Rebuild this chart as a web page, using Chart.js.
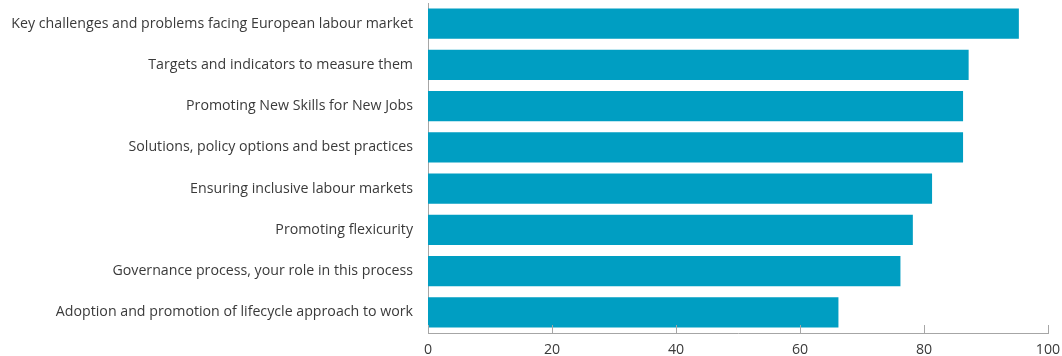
<!DOCTYPE html>
<html>
<head>
<meta charset="utf-8">
<script src="https://cdn.jsdelivr.net/npm/chart.js@4.4.1/dist/chart.umd.min.js"></script>
<style>
  html, body { margin: 0; padding: 0; background: #fff; }
  #wrap { width: 1062px; height: 356px; position: relative; }
</style>
</head>
<body>
<div id="wrap"><canvas id="chart"></canvas></div>
<script>
// datos
const categories = [
  'Key challenges and problems facing European labour market',
  'Targets and indicators to measure them',
  'Promoting New Skills for New Jobs',
  'Solutions, policy options and best practices',
  'Ensuring inclusive labour markets',
  'Promoting flexicurity',
  'Governance process, your role in this process',
  'Adoption and promotion of lifecycle approach to work'
];
const values = [95.3, 87.2, 86.3, 86.3, 81.3, 78.2, 76.2, 66.2];
const xTicks = [0, 20, 40, 60, 80, 100];

const BAR_COLOR = '#009ec2';
const AXIS_COLOR = '#a6a6a6';
const TEXT_COLOR = '#3a3a3a';
const FONT = { family: 'Open Sans', size: 14.2 };

// marcas de eje hacia arriba (como en el original)
const upTicks = {
  id: 'upTicks',
  afterDraw(chart) {
    const x = chart.scales.x;
    const ctx = chart.ctx;
    const yAxis = chart.chartArea.bottom;
    ctx.save();
    ctx.strokeStyle = AXIS_COLOR;
    ctx.lineWidth = 1;
    xTicks.forEach(v => {
      const px = Math.round(x.getPixelForValue(v)) + 0.5;
      ctx.beginPath();
      ctx.moveTo(px, yAxis - 8);
      ctx.lineTo(px, yAxis);
      ctx.stroke();
    });
    ctx.restore();
  }
};

const ctx = document.getElementById('chart').getContext('2d');
new Chart(ctx, {
  type: 'bar',
  data: {
    labels: categories,
    datasets: [{
      data: values,
      backgroundColor: BAR_COLOR,
      borderWidth: 0,
      categoryPercentage: 1,
      barPercentage: 0.73
    }]
  },
  options: {
    indexAxis: 'y',
    responsive: true,
    maintainAspectRatio: false,
    animation: false,
    layout: { padding: { left: 0, right: 0, top: 3, bottom: 0 } },
    plugins: { legend: { display: false }, tooltip: { enabled: false } },
    scales: {
      x: {
        min: 0,
        max: 100,
        afterBuildTicks: s => { s.ticks = xTicks.map(v => ({ value: v })); },
        afterFit: s => { s.height = 23; s.paddingLeft = 0; s.paddingRight = 14; },
        grid: { display: false, drawTicks: false },
        border: { display: true, color: AXIS_COLOR, width: 1 },
        ticks: { color: TEXT_COLOR, padding: 8, font: FONT }
      },
      y: {
        afterFit: s => { s.width = 428; s.paddingTop = 0; s.paddingBottom = 0; },
        grid: { display: false, drawTicks: false },
        border: { display: true, color: AXIS_COLOR, width: 1 },
        ticks: { color: TEXT_COLOR, padding: 15, font: FONT }
      }
    }
  },
  plugins: [upTicks]
});
</script>
</body>
</html>
